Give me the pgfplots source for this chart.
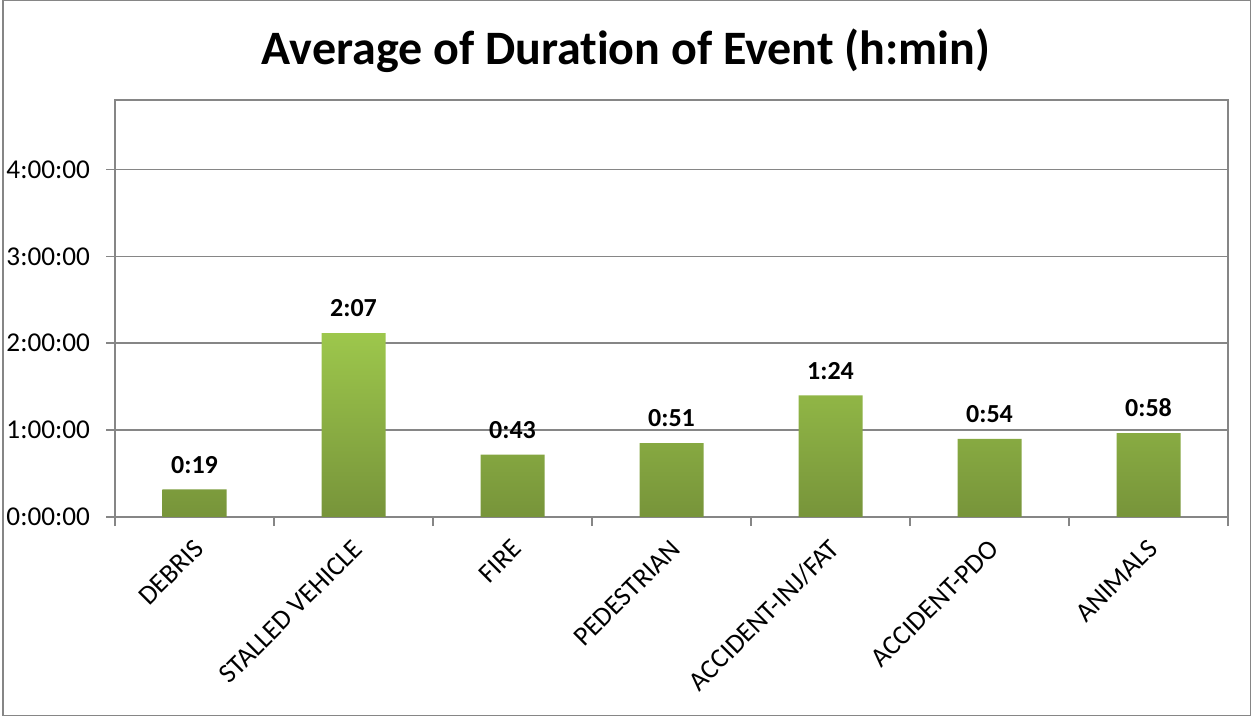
\documentclass[border=0pt]{standalone}
\usepackage{pgfplots}
\pgfplotsset{compat=1.18}
\usepackage{fontspec}
\setmainfont[Ligatures=NoCommon]{Carlito}
\definecolor{bartop}{RGB}{157,199,76}
\definecolor{barbot}{RGB}{119,148,58}
\definecolor{axgray}{RGB}{134,134,134}
\begin{document}
\begin{tikzpicture}
\useasboundingbox (0,0) rectangle (626bp,358.5bp);
\draw[axgray, line width=0.8bp] (1.6bp,0.8bp) rectangle (625.3bp,358.2bp);
\node[font=\fontsize{24bp}{28bp}\selectfont\bfseries, anchor=base] at (313bp,326bp) {Average of Duration of Event (h:min)};
\begin{axis}[
    at={(57.5bp,100bp)}, anchor=south west,
    scale only axis,
    width=556.5bp, height=208.5bp,
    xmin=-0.5, xmax=6.5,
    ymin=0, ymax=288,
    ytick={0,60,120,180,240},
    yticklabels={0:00:00,1:00:00,2:00:00,3:00:00,4:00:00},
    xtick={0,1,2,3,4,5,6},
    xticklabels={DEBRIS,STALLED VEHICLE,FIRE,PEDESTRIAN,ACCIDENT-INJ/FAT,ACCIDENT-PDO,ANIMALS},
    minor xtick={-0.5,0.5,...,6.5},
    major x tick style={draw=none},
    xtick pos=bottom, ytick pos=left,
    minor tick length=4.5bp,
    major tick length=4.5bp,
    tick align=outside,
    tick style={axgray, line width=0.8bp},
    axis line style={axgray, line width=0.8bp},
    ymajorgrids,
    grid style={axgray, line width=0.8bp},
    xticklabel style={rotate=45, anchor=east, xshift=-1.5bp, yshift=-8bp, font=\fontsize{13.6bp}{16bp}\selectfont},
    yticklabel style={xshift=-4.5bp, font=\fontsize{13.6bp}{16bp}\selectfont},
    /pgf/number format/assume math mode=true,
    nodes near coords,
    point meta=explicit symbolic,
    every node near coord/.append style={font=\fontsize{13bp}{16bp}\selectfont\bfseries, yshift=4.5bp},
]
\addplot[ybar, bar width=32bp, draw=none, top color=bartop, bottom color=barbot]
coordinates {
(0,19) [0:19]
(1,127) [2:07]
(2,43) [0:43]
(3,51) [0:51]
(4,84) [1:24]
(5,54) [0:54]
(6,58) [0:58]
};
\end{axis}
\end{tikzpicture}
\end{document}
